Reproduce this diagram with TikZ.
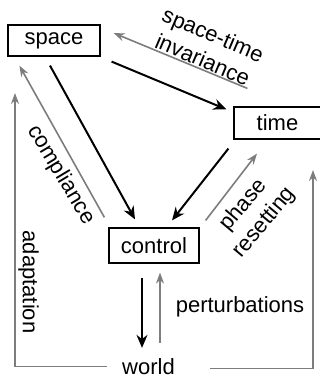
\documentclass[tikz,border=0pt]{standalone}
\usepackage{fontspec}
\setmainfont{Liberation Sans}
\usetikzlibrary{arrows.meta}
\definecolor{feedgray}{RGB}{125,125,125}

\begin{document}
\begin{tikzpicture}[x=1pt, y=-1pt,
    every node/.style={font=\fontsize{22}{27}\selectfont},
    box/.style={draw, line width=1.2pt, inner sep=0pt, minimum height=31pt},
    fwd/.style={line width=2pt, -{Stealth[length=13pt, width=11pt]}},
    back/.style={line width=1.6pt, draw=feedgray, -{Stealth[length=11pt, width=8pt, fill=feedgray!80!black]}}]
  \useasboundingbox (0,0) rectangle (320,379);

  % Boxes
  \node[box, minimum width=92pt] (space) at (54,40.5) {space};
  \node[box, minimum width=87pt, minimum height=32pt] (time) at (277.5,123) {time};
  \node[box, minimum width=90pt, minimum height=35pt] (control) at (154,245.5) {control};
  \node[inner sep=0pt, anchor=base] (world) at (148.5,374.5) {world};

  % Labels
  \node[rotate=-23, align=center] (inv) at (208,47) {space-time\\invariance};
  \node[rotate=-59] (comp) at (61,175) {compliance};
  \node[rotate=50, align=center] (phase) at (254,214) {phase\\resetting};
  \node[rotate=-90] (adapt lbl) at (28.5,282) {adaptation};
  \node (pert) at (240,307) {perturbations};

  % Space <-> time
  \draw[fwd] ([shift={(11,5)}]space.south east) -- ([shift={(-7,3)}]time.north west);
  \draw[back] ([shift={(14,-18)}]time.north west) -- ([shift={(13,-7.5)}]space.east);

  % Space <-> control
  \draw[fwd] ([shift={(-4,9)}]space.south) -- ([shift={(-19,-8)}]control.north);
  \draw[back] ([shift={(-4,-10)}]control.north west) -- ([shift={(12,9)}]space.south west);

  % Time <-> control
  \draw[fwd] ([shift={(-5,9)}]time.south west) -- ([shift={(18,-7)}]control.north);
  \draw[back] ([shift={(6,-7)}]control.north east) -- ([shift={(-20.5,14)}]time.south);

  % Control <-> world
  \draw[fwd] ([shift={(-12,14)}]control.south) -- ([shift={(-6.5,-10.5)}]world.north);
  \draw[back] ([shift={(11.5,-15.5)}]world.north) -- ([shift={(6,9)}]control.south);

  % Loops from world
  \coordinate (adapt) at (15,93);
  \coordinate (reset) at (313,170);
  \draw[back] ([xshift=-15pt]world.west) -| (adapt);
  \draw[back] ([shift={(35,2)}]world.east) -| (reset);
\end{tikzpicture}
\end{document}
